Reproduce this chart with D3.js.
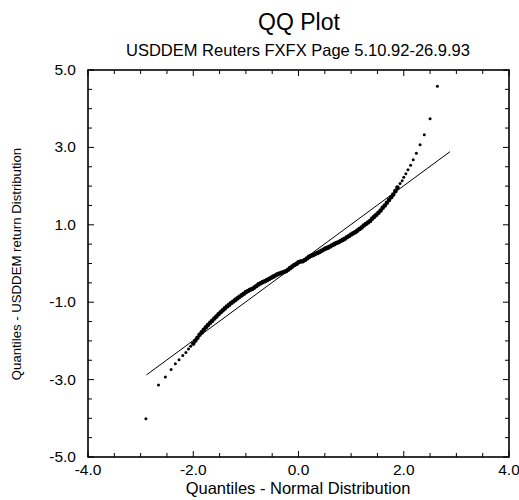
<!DOCTYPE html>
<html><head><meta charset="utf-8">
<script src="https://cdn.jsdelivr.net/npm/d3@7"></script>
<style>html,body{margin:0;padding:0;background:#fff;} svg{display:block;font-family:"Liberation Sans",Arial,Helvetica,sans-serif;}</style>
</head><body><svg id="c" width="519" height="500"></svg>
<script>
const title = "QQ Plot";
const subtitle = "USDDEM Reuters FXFX Page 5.10.92-26.9.93";
const xTitle = "Quantiles - Normal Distribution";
const yTitle = "Quantiles - USDDEM return Distribution";
const xDomain = [-4, 4];
const yDomain = [-5, 5];
const xTicks = [-4, -2, 0, 2, 4];
const xTickLabels = ["-4.0", "-2.0", "0.0", "2.0", "4.0"];
const yTicks = [-5, -3, -1, 1, 3, 5];
const yTickLabels = ["-5.0", "-3.0", "-1.0", "1.0", "3.0", "5.0"];
const xMinor = [-3.5,-3,-2.5,-1.5,-1,-0.5,0.5,1,1.5,2.5,3,3.5];
const yMinor = [-4.5,-4,-3.5,-2.5,-2,-1.5,-0.5,0,0.5,1.5,2,2.5,3.5,4,4.5];

// sparse lower tail [normal quantile, sample quantile]
const lowerTail = [[-2.90,-4.01],[-2.66,-3.14],[-2.53,-2.93],[-2.42,-2.74],[-2.34,-2.59],
  [-2.27,-2.49],[-2.20,-2.38],[-2.14,-2.30],[-2.09,-2.21],[-2.05,-2.14]];
// dense body
const body = [[-2.00,-2.07],[-1.96,-1.99],[-1.92,-1.92],[-1.88,-1.84],[-1.84,-1.78],[-1.80,-1.71],
  [-1.76,-1.65],[-1.72,-1.59],[-1.68,-1.53],[-1.64,-1.48],[-1.60,-1.42],[-1.56,-1.37],[-1.52,-1.31],
  [-1.48,-1.26],[-1.44,-1.21],[-1.40,-1.16],[-1.36,-1.11],[-1.32,-1.07],[-1.28,-1.02],[-1.24,-0.98],
  [-1.20,-0.94],[-1.16,-0.90],[-1.12,-0.86],[-1.08,-0.82],[-1.04,-0.78],[-1.00,-0.74],[-0.96,-0.71],
  [-0.92,-0.68],[-0.88,-0.66],[-0.84,-0.62],[-0.80,-0.58],[-0.76,-0.54],[-0.72,-0.51],[-0.68,-0.48],
  [-0.64,-0.46],[-0.60,-0.43],[-0.56,-0.40],[-0.52,-0.37],[-0.48,-0.34],[-0.44,-0.31],[-0.40,-0.28],
  [-0.36,-0.26],[-0.32,-0.24],[-0.28,-0.22],[-0.24,-0.20],[-0.20,-0.16],[-0.16,-0.12],[-0.12,-0.08],
  [-0.08,-0.04],[-0.04,-0.01],[0.00,0.03],[0.04,0.05],[0.08,0.06],[0.12,0.09],[0.16,0.13],[0.20,0.17],
  [0.24,0.20],[0.28,0.22],[0.32,0.25],[0.36,0.27],[0.40,0.30],[0.44,0.33],[0.48,0.36],[0.52,0.39],
  [0.56,0.41],[0.60,0.44],[0.64,0.47],[0.68,0.50],[0.72,0.53],[0.76,0.55],[0.80,0.58],[0.84,0.61],
  [0.88,0.64],[0.92,0.68],[0.96,0.71],[1.00,0.75],[1.04,0.78],[1.08,0.81],[1.12,0.85],[1.16,0.89],
  [1.20,0.93],[1.24,0.98],[1.28,1.02],[1.32,1.06],[1.36,1.10],[1.40,1.16],[1.44,1.21],[1.48,1.26],
  [1.52,1.31],[1.56,1.37],[1.60,1.44],[1.64,1.50],[1.68,1.57],[1.72,1.64],[1.76,1.71],[1.80,1.78],
  [1.84,1.87],[1.88,1.96]];
// sparse upper tail
const upperTail = [[1.93,2.07],[1.97,2.14],[2.00,2.23],[2.04,2.32],[2.08,2.42],[2.13,2.54],
  [2.18,2.68],[2.24,2.85],[2.31,3.07],[2.39,3.33],[2.50,3.74],[2.64,4.58]];
// fitted reference line
const refLine = [[-2.89,-2.88],[2.88,2.89]];

const svg = d3.select("#c");
const L = 88, R = 509, T = 70, B = 457;
const x = d3.scaleLinear().domain(xDomain).range([L, R]);
const y = d3.scaleLinear().domain(yDomain).range([B, T]);

// frame
svg.append("rect").attr("x", L).attr("y", T).attr("width", R - L).attr("height", B - T)
  .attr("fill", "none").attr("stroke", "#000").attr("stroke-width", 1.6);

const tk = svg.append("g").attr("stroke", "#000").attr("stroke-width", 1);
const majLen = 6, minLen = 4;
function xt(vals, len) {
  vals.forEach(v => {
    tk.append("line").attr("x1", x(v)).attr("x2", x(v)).attr("y1", B).attr("y2", B - len);
    tk.append("line").attr("x1", x(v)).attr("x2", x(v)).attr("y1", T).attr("y2", T + len);
  });
}
function yt(vals, len) {
  vals.forEach(v => {
    tk.append("line").attr("y1", y(v)).attr("y2", y(v)).attr("x1", L).attr("x2", L + len);
    tk.append("line").attr("y1", y(v)).attr("y2", y(v)).attr("x1", R).attr("x2", R - len);
  });
}
xt(xTicks, majLen); xt(xMinor, minLen);
yt(yTicks, majLen); yt(yMinor, minLen);

// tick labels
svg.append("g").selectAll("text").data(xTicks).join("text")
  .attr("x", d => x(d)).attr("y", 475).attr("text-anchor", "middle")
  .attr("font-size", 15.5).text((d, i) => xTickLabels[i]);
svg.append("g").selectAll("text").data(yTicks).join("text")
  .attr("x", 76).attr("y", d => y(d) + 5).attr("text-anchor", "end")
  .attr("font-size", 15.5).text((d, i) => yTickLabels[i]);

// reference line
svg.append("path").datum(refLine)
  .attr("d", d3.line().x(d => x(d[0])).y(d => y(d[1])))
  .attr("stroke", "#000").attr("stroke-width", 1).attr("fill", "none");

// points
svg.append("g").selectAll("circle").data(body).join("circle")
  .attr("cx", d => x(d[0])).attr("cy", d => y(d[1])).attr("r", 2.3).attr("fill", "#000");
svg.append("g").selectAll("circle").data(lowerTail.concat(upperTail)).join("circle")
  .attr("cx", d => x(d[0])).attr("cy", d => y(d[1])).attr("r", 1.5).attr("fill", "#000");

// titles
svg.append("text").attr("x", 299).attr("y", 30).attr("text-anchor", "middle")
  .attr("font-size", 23).text(title);
svg.append("text").attr("x", 298).attr("y", 56).attr("text-anchor", "middle")
  .attr("font-size", 16.5).text(subtitle);
svg.append("text").attr("x", 298).attr("y", 494).attr("text-anchor", "middle")
  .attr("font-size", 16.5).text(xTitle);
svg.append("text").attr("transform", "translate(21,264) rotate(-90)").attr("text-anchor", "middle")
  .attr("font-size", 13.2).text(yTitle);
</script></body></html>
